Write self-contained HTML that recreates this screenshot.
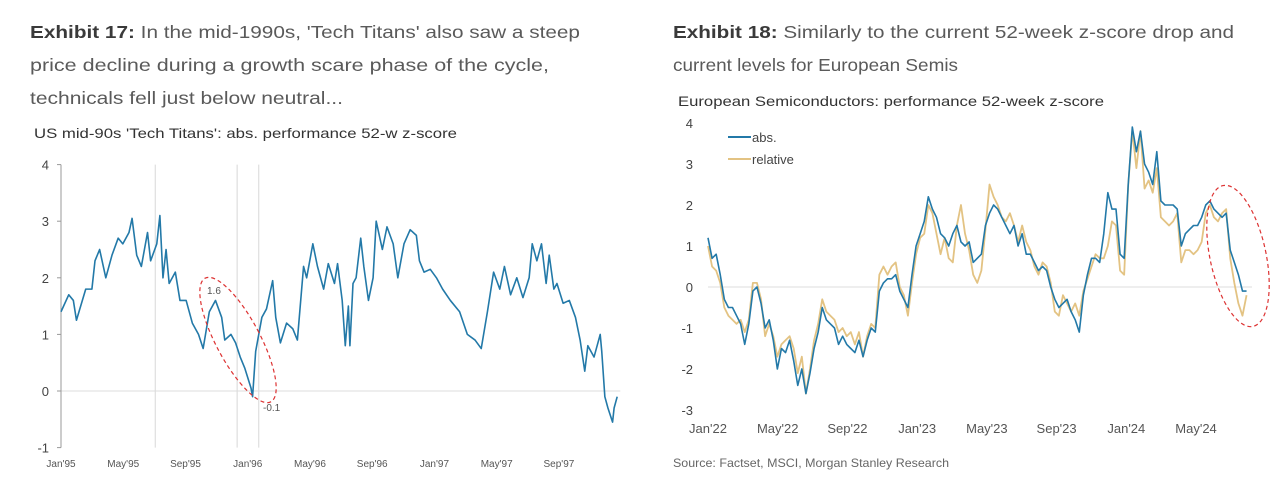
<!DOCTYPE html>
<html><head><meta charset="utf-8"><style>
html,body{margin:0;padding:0;background:#fff;}
svg{display:block;font-family:"Liberation Sans",sans-serif;}
</style></head><body>
<svg id="s" width="1280" height="482" viewBox="0 0 1280 482" xmlns="http://www.w3.org/2000/svg">
<g fill="#5a5a5a" font-size="17.5">
<text x="30" y="38" textLength="550" lengthAdjust="spacingAndGlyphs"><tspan font-weight="bold" fill="#3a3a3a">Exhibit 17:</tspan>  In the mid-1990s, 'Tech Titans' also saw a steep</text>
<text x="30" y="71" textLength="519" lengthAdjust="spacingAndGlyphs">price decline during a growth scare phase of the cycle,</text>
<text x="30" y="104" textLength="313" lengthAdjust="spacingAndGlyphs">technicals fell just below neutral...</text>
</g>
<g fill="#5a5a5a" font-size="17.5">
<text x="673" y="38" textLength="561" lengthAdjust="spacingAndGlyphs"><tspan font-weight="bold" fill="#3a3a3a">Exhibit 18:</tspan>  Similarly to the current 52-week z-score drop and</text>
<text x="673" y="71" textLength="285" lengthAdjust="spacingAndGlyphs">current levels for European Semis</text>
</g>
<text x="34" y="138" font-size="14" fill="#333" textLength="423" lengthAdjust="spacingAndGlyphs">US mid-90s 'Tech Titans': abs. performance 52-w z-score</text>
<text x="678" y="106" font-size="14" fill="#333" textLength="426" lengthAdjust="spacingAndGlyphs">European Semiconductors: performance 52-week z-score</text>
<text x="673" y="467" font-size="12" fill="#666" textLength="276" lengthAdjust="spacingAndGlyphs">Source: Factset, MSCI, Morgan Stanley Research</text>
<g id="L"></g><g id="R"></g>
</svg>
<script>
// ---- Left chart data (months since Jan'95, z-score) ----
const leftMonths=[0,0.5,0.8,1.0,1.6,2.0,2.2,2.5,2.9,3.3,3.7,4.0,4.4,4.6,4.9,5.2,5.6,5.8,6.2,6.4,6.6,6.8,7.0,7.4,7.7,8.1,8.5,8.9,9.2,9.6,10.0,10.4,10.6,11.0,11.3,11.6,11.9,12.3,12.4,12.6,13.0,13.3,13.7,13.9,14.2,14.6,15.0,15.3,15.7,15.9,16.3,16.6,17.0,17.3,17.7,17.9,18.2,18.4,18.6,18.7,18.9,19.1,19.4,19.6,19.9,20.2,20.4,20.8,21.1,21.5,21.8,22.2,22.6,23.0,23.2,23.5,23.9,24.3,24.7,25.2,25.8,26.3,26.8,27.2,27.6,28.0,28.4,28.7,29.1,29.5,29.9,30.3,30.5,30.8,31.1,31.4,31.6,31.9,32.1,32.5,32.9,33.3,33.6,33.9,34.1,34.5,34.9,35.0,35.2,35.4,35.7,35.8,36.0];
const leftValues=[1.4,1.7,1.6,1.25,1.8,1.8,2.3,2.5,2.0,2.4,2.7,2.6,2.8,3.05,2.4,2.2,2.8,2.3,2.6,3.1,2.0,2.5,1.9,2.1,1.6,1.6,1.2,1.0,0.75,1.4,1.6,1.3,0.9,1.0,0.85,0.6,0.4,0.05,-0.1,0.7,1.3,1.45,1.95,1.3,0.85,1.2,1.1,0.9,2.2,2.0,2.6,2.2,1.8,2.25,1.9,2.25,1.6,0.8,1.5,0.8,1.9,2.0,2.7,2.2,1.6,2.0,3.0,2.5,2.9,2.6,2.0,2.6,2.85,2.75,2.3,2.1,2.15,2.0,1.8,1.6,1.4,1.0,0.9,0.75,1.4,2.1,1.8,2.2,1.7,2.0,1.65,2.0,2.6,2.3,2.6,1.9,2.4,1.8,1.9,1.55,1.6,1.3,0.9,0.35,0.8,0.6,1.0,0.7,-0.1,-0.3,-0.55,-0.3,-0.1];
const leftYTicks=[4,3,2,1,0,-1];
const leftXLabels=["Jan'95","May'95","Sep'95","Jan'96","May'96","Sep'96","Jan'97","May'97","Sep'97"];
const leftGridMonths=[6.1,11.4,12.8];
// ---- Right chart data (weekly from Jan'22) ----
const absValues=[1.2,0.7,0.8,0.3,-0.3,-0.5,-0.5,-0.7,-0.9,-1.4,-0.9,-0.1,0.0,-0.4,-1.0,-0.8,-1.3,-2.0,-1.5,-1.6,-1.3,-1.8,-2.4,-2.0,-2.6,-2.1,-1.5,-1.1,-0.5,-0.8,-0.9,-1.0,-1.4,-1.2,-1.4,-1.5,-1.6,-1.3,-1.7,-1.3,-1.0,-1.1,-0.1,0.1,0.2,0.2,0.3,-0.1,-0.3,-0.5,0.3,1.0,1.3,1.6,2.2,1.9,1.7,1.3,1.2,1.0,1.3,1.5,1.1,1.0,1.1,0.6,0.7,0.8,1.5,1.8,2.0,1.9,1.7,1.5,1.3,1.5,1.0,1.3,0.8,0.8,0.6,0.4,0.5,0.4,0.0,-0.3,-0.5,-0.4,-0.3,-0.6,-0.8,-1.1,-0.2,0.3,0.7,0.7,0.6,1.3,2.3,1.9,1.9,0.8,0.7,2.5,3.9,3.3,3.8,3.0,2.8,2.5,3.3,2.1,2.0,2.0,2.0,1.9,1.0,1.3,1.4,1.5,1.5,1.7,2.0,2.1,1.9,1.8,1.7,1.8,0.9,0.6,0.3,-0.1,-0.1];
const relValues=[1.0,0.5,0.4,0.1,-0.5,-0.7,-0.8,-0.9,-0.8,-1.1,-0.8,0.1,0.1,-0.3,-1.2,-0.9,-1.2,-1.7,-1.4,-1.3,-1.2,-1.5,-2.1,-1.7,-2.6,-2.0,-1.3,-0.9,-0.3,-0.6,-0.7,-0.8,-1.1,-1.0,-1.2,-1.1,-1.4,-1.1,-1.7,-1.2,-0.9,-1.0,0.3,0.5,0.3,0.5,0.6,0.0,-0.2,-0.7,0.1,0.8,1.2,1.3,2.0,1.8,1.3,0.8,1.2,0.7,0.6,1.5,2.0,1.3,0.9,0.3,0.1,0.4,1.4,2.5,2.2,2.0,1.7,1.6,1.8,1.5,1.1,1.5,1.1,0.9,0.5,0.3,0.6,0.5,0.1,-0.6,-0.7,-0.2,-0.4,-0.6,-0.4,-0.7,-0.1,0.2,0.5,0.8,0.7,0.7,1.0,1.6,1.5,0.4,0.3,2.5,3.8,2.9,3.8,2.4,2.6,2.3,2.9,1.7,1.6,1.5,1.6,1.8,0.6,0.9,0.9,0.8,0.9,1.1,1.8,2.0,1.7,1.6,1.8,1.9,0.7,0.1,-0.4,-0.7,-0.2];
const rightYTicks=[4,3,2,1,0,-1,-2,-3];
const rightXLabels=["Jan'22","May'22","Sep'22","Jan'23","May'23","Sep'23","Jan'24","May'24"];

const NS="http://www.w3.org/2000/svg";
function mk(p,tag,attrs){const e=document.createElementNS(NS,tag);for(const k in attrs)e.setAttribute(k,attrs[k]);p.appendChild(e);return e;}

// Left axes
const lx=m=>61+m*15.45, ly=v=>391-v*56.6;
const L=document.getElementById('L');
leftGridMonths.forEach(m=>{const g=mk(L,'line',{x1:lx(m),x2:lx(m),y1:ly(4),y2:ly(-1),stroke:'#d8d8d8','stroke-width':1});

});
const lz=mk(L,'line',{x1:lx(0),x2:lx(36.2),y1:ly(0),y2:ly(0),stroke:'#dcdcdc','stroke-width':1});


const la=mk(L,'line',{x1:lx(0),x2:lx(0),y1:ly(4),y2:ly(-1),stroke:'#999','stroke-width':1});


leftYTicks.forEach(v=>{mk(L,'line',{x1:lx(0)-4,x2:lx(0),y1:ly(v),y2:ly(v),stroke:'#999'});
const t=mk(L,'text',{x:lx(0)-12,y:ly(v)+5,'text-anchor':'end','font-size':13,fill:'#444'});t.textContent=v;

});
leftXLabels.forEach((s,i)=>{const t=mk(L,'text',{x:61+i*4*15.56,y:467,'text-anchor':'middle','font-size':10,fill:'#555'});t.textContent=s;

});
const lp=mk(L,'polyline',{points:leftMonths.map((m,i)=>lx(m)+','+ly(leftValues[i])).join(' '),fill:'none',stroke:'#2379a8','stroke-width':1.6,'stroke-linejoin':'round'});


const le=mk(L,'ellipse',{cx:238,cy:340,rx:22,ry:70,transform:'rotate(-28 238 340)',fill:'none',stroke:'#d33','stroke-width':1.2,'stroke-dasharray':'4 3'});


const a1=mk(L,'text',{x:207,y:294,'font-size':10,fill:'#555'});a1.textContent='1.6';


const a2=mk(L,'text',{x:263,y:411,'font-size':10,fill:'#555'});a2.textContent='-0.1';



// Right axes
const rx=w=>708+w*4.08, ry=v=>287-v*41;
const R=document.getElementById('R');
const rz=mk(R,'line',{x1:rx(0),x2:1252,y1:ry(0),y2:ry(0),stroke:'#dcdcdc','stroke-width':1});


rightYTicks.forEach(v=>{const t=mk(R,'text',{x:693,y:ry(v)+5,'text-anchor':'end','font-size':13,fill:'#444'});t.textContent=v;

});
rightXLabels.forEach((s,i)=>{const t=mk(R,'text',{x:708+i*4*17.43,y:433,'text-anchor':'middle','font-size':13,fill:'#555'});t.textContent=s;

});
const rp=mk(R,'polyline',{points:relValues.map((v,i)=>rx(i)+','+ry(v)).join(' '),fill:'none',stroke:'#e3c383','stroke-width':1.8,'stroke-linejoin':'round'});


const ap=mk(R,'polyline',{points:absValues.map((v,i)=>rx(i)+','+ry(v)).join(' '),fill:'none',stroke:'#2379a8','stroke-width':1.6,'stroke-linejoin':'round'});


const re=mk(R,'ellipse',{cx:1238,cy:256,rx:28,ry:72,transform:'rotate(-12 1238 256)',fill:'none',stroke:'#d33','stroke-width':1.2,'stroke-dasharray':'4 3'});


const lg1=mk(R,'g',{});


mk(lg1,'line',{x1:728,x2:751,y1:137,y2:137,stroke:'#2379a8','stroke-width':2});
mk(lg1,'text',{x:752,y:142,'font-size':13,fill:'#444'}).textContent='abs.';
const lg2=mk(R,'g',{});


mk(lg2,'line',{x1:728,x2:751,y1:159,y2:159,stroke:'#e3c383','stroke-width':2});
mk(lg2,'text',{x:752,y:164,'font-size':13,fill:'#444'}).textContent='relative';
</script>
</body></html>
